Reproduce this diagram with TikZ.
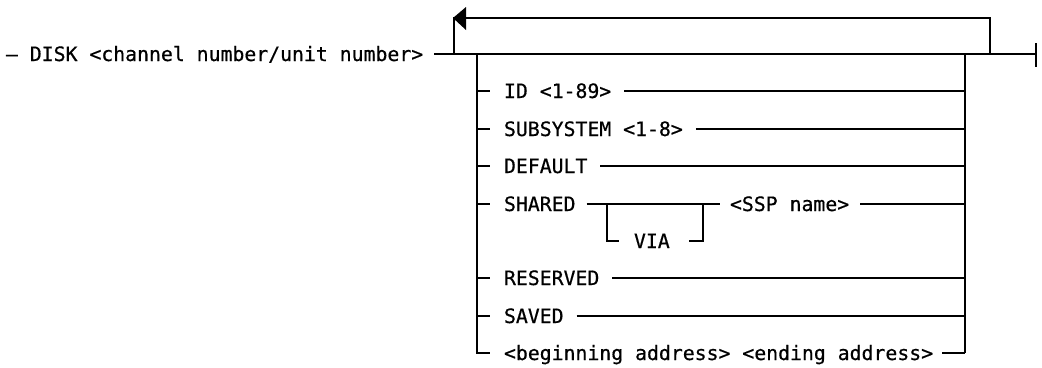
\documentclass[tikz,border=0pt]{standalone}
\usepackage{fontspec}
\newfontfamily\rrfont[FakeBold=0.6]{DejaVu Sans Mono}
\begin{document}
\begin{tikzpicture}[x=1pt,y=-1pt,line width=2pt,
  kw/.style={anchor=base west,inner sep=0pt,yshift=-7pt,
    font=\rrfont\fontsize{19.8}{22}\selectfont},
  arrowtip/.style={fill=black,draw=none}]
\useasboundingbox (0,0) rectangle (1042,367);

% row heights of the railroad tracks
\def\rA{54}\def\rB{91}\def\rC{129}\def\rD{166}\def\rE{204}
\def\rF{241}\def\rG{278}\def\rH{316}\def\rI{353}

% junction points
\coordinate (loopL)  at (454,\rA);
\coordinate (loopLT) at (454,18);
\coordinate (loopRT) at (990,18);
\coordinate (loopR)  at (990,\rA);
\coordinate (brL)    at (477,\rA);
\coordinate (brR)    at (965,\rA);
\coordinate (endT)   at (1036,\rA);

% statement head and main track
\node[kw] (head) at (5,\rA) {– DISK <channel number/unit number>};
\draw ([xshift=10pt]head.east |- endT) -- (endT);
\draw (1036,43) -- (1036,67);

% repeat loop with arrow
\draw (loopL) -- (loopLT) -- (loopRT) -- (loopR);
\fill[arrowtip] (453,18) -- (466,7) -- (466,30) -- cycle;

% option rails
\coordinate (bl) at (477,\rI);
\coordinate (br) at (965,\rI);
\draw (brL) -- (bl) -- ++(13,0);
\draw (brR) -- (br);

% simple options
\foreach \nm/\yy/\txt in {oa/\rB/{ID <1-89>},
                           ob/\rC/{SUBSYSTEM <1-8>},
                           oc/\rD/{DEFAULT},
                           og/\rG/{RESERVED},
                           oh/\rH/{SAVED}}{
  \coordinate (\nm L) at (477,\yy);
  \coordinate (\nm R) at (965,\yy);
  \draw (\nm L) -- ++(13,0);
  \node[kw] (\nm) at (503,\yy) {\txt};
  \draw ([xshift=12pt]\nm.east |- \nm R) -- (\nm R);
}

% SHARED with optional VIA
\coordinate (odL) at (477,\rE);
\coordinate (odR) at (965,\rE);
\coordinate (viaL) at (607,\rE);
\coordinate (viaR) at (703,\rE);
\coordinate (viaBL) at (607,\rF);
\coordinate (viaBR) at (703,\rF);
\draw (odL) -- ++(13,0);
\node[kw] (od) at (503,\rE) {SHARED};
\draw ([xshift=10pt]od.east |- odR) -- (720,\rE);
\draw (viaL) -- (viaBL) -- ++(12,0);
\node[kw] (via) at (633,\rF) {VIA};
\draw ([xshift=-14pt]viaBR) -- (viaBR) -- (viaR);
\node[kw] (ssp) at (729,\rE) {<SSP name>};
\draw ([xshift=10pt]ssp.east |- odR) -- (odR);

% address range option
\node[kw] (oi) at (503,\rI) {<beginning address> <ending address>};
\draw ([xshift=8pt]oi.east |- br) -- (br);
\end{tikzpicture}
\end{document}
